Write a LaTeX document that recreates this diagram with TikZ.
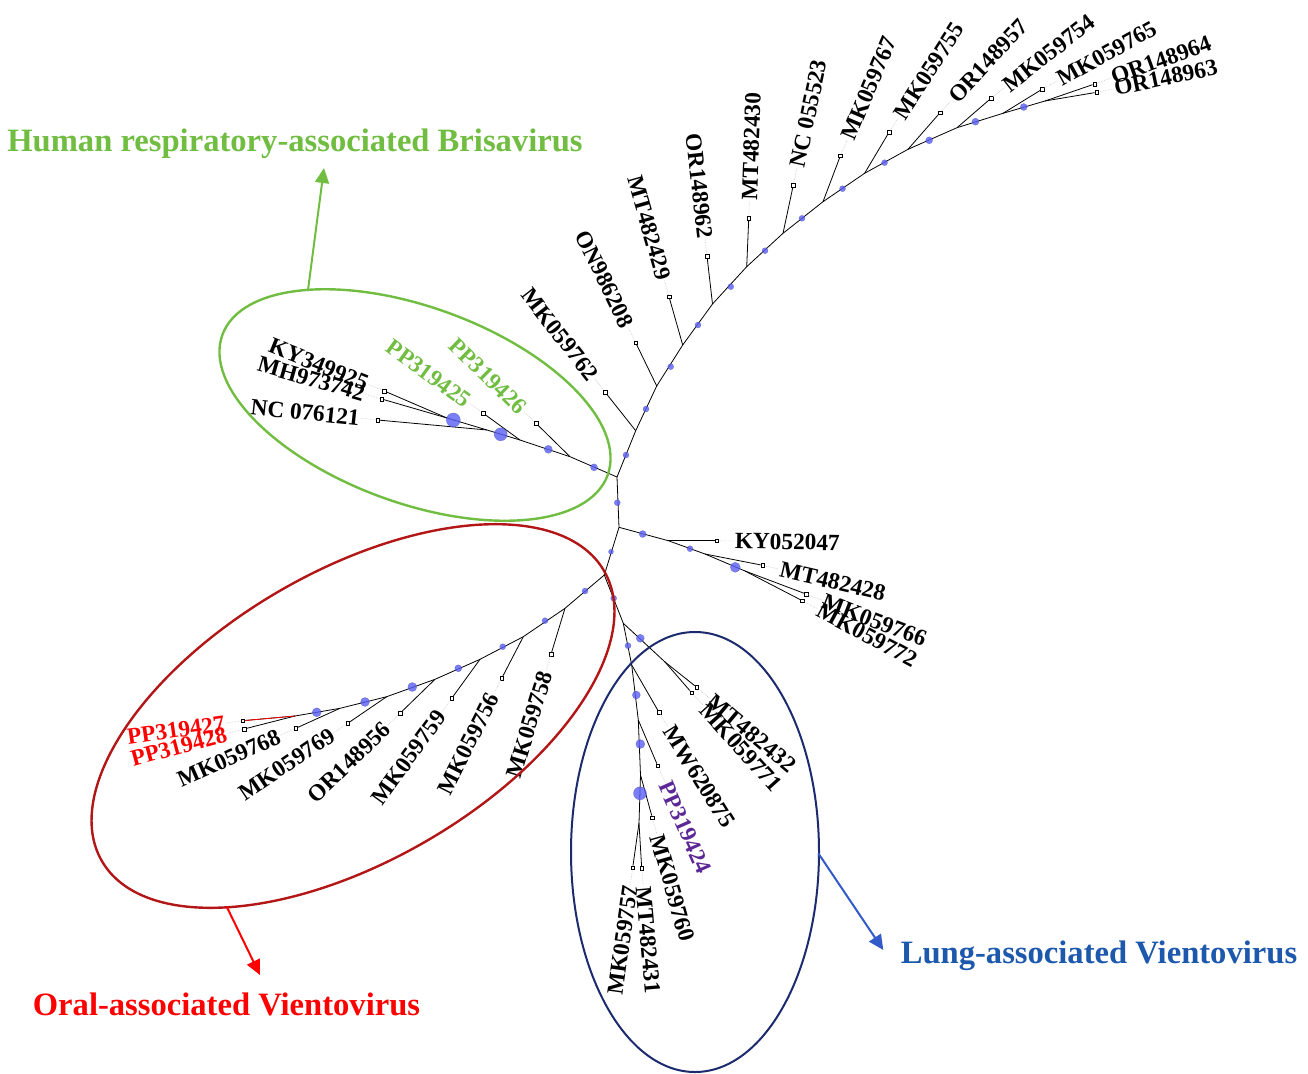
\documentclass[tikz,border=0pt]{standalone}
\usepackage{fontspec}
\setmainfont{Liberation Serif}
\usetikzlibrary{arrows.meta,calc}

\definecolor{GreenC}{RGB}{112,189,66}
\definecolor{RedE}{RGB}{178,22,22}
\definecolor{RedT}{RGB}{255,0,0}
\definecolor{NavyE}{RGB}{28,42,110}
\definecolor{BlueT}{RGB}{28,88,172}
\definecolor{BlueA}{RGB}{50,90,200}
\definecolor{PurpleT}{RGB}{92,40,150}
\definecolor{DotBlue}{RGB}{90,95,245}

\tikzset{
  branch/.style={black, line width=0.8pt},
  leaf/.style={rectangle, draw, fill=white, inner sep=0pt, minimum size=3.6pt, line width=0.6pt},
  bdot/.style={circle, inner sep=0pt, minimum size=#1pt, fill=DotBlue, fill opacity=0.8,
    draw=DotBlue!70!black, draw opacity=0.5, line width=0.4pt},
  lab/.style={font=\fontsize{23.3}{23.3}\selectfont\bfseries, inner sep=1pt},
  leader/.style={black!22, densely dotted, line width=0.6pt},
  clade/.style={line width=2.4pt},
  title/.style={font=\fontsize{32.6}{32.6}\selectfont\bfseries, inner sep=0pt, anchor=base},
  pointer/.style={->, line width=2pt}
}

\begin{document}
\begin{tikzpicture}[x=1pt, y=1pt, >={Triangle[width=14pt,length=15pt]}]
    \useasboundingbox (0,0) rectangle (1308,-1073);

    % Backbone
    \coordinate (j1) at (617,-477);
    \coordinate (j2) at (619,-527.3);
    \coordinate (j3) at (604.3,-575);
    % Upper spine
    \coordinate (u1) at (635.7,-430.7);
    \coordinate (u2) at (656.7,-386);
    \coordinate (u3) at (682.7,-345);
    \coordinate (u4) at (712.5,-304);
    \coordinate (u5) at (746.7,-266.7);
    \coordinate (u6) at (783,-233.3);
    \coordinate (u7) at (823,-201.7);
    \coordinate (u8) at (864.6,-173.3);
    \coordinate (u9) at (908,-149.3);
    \coordinate (u10) at (957,-127.7);
    \coordinate (u11) at (1003,-113.3);
    \coordinate (u12) at (1045,-101);
    % Brisavirus clade
    \coordinate (g1) at (570,-456.7);
    \coordinate (g2) at (520,-440);
    \coordinate (g3) at (487,-430);
    \coordinate (g4) at (447,-418);
    % KY052047 clade
    \coordinate (k1) at (668.3,-540.7);
    \coordinate (k2) at (705,-554);
    \coordinate (k3) at (745,-571);
    % Oral clade
    \coordinate (o1) at (565,-608.3);
    \coordinate (o2) at (523.3,-636.7);
    \coordinate (o3) at (480,-659.3);
    \coordinate (o4) at (435,-679.3);
    \coordinate (o5) at (386.7,-696.7);
    \coordinate (o6) at (340,-708.3);
    \coordinate (o7) at (295,-716);
    % Lung clade
    \coordinate (l1) at (623.3,-623.3);
    \coordinate (l2) at (631.7,-665);
    \coordinate (l3) at (638.3,-720);
    \coordinate (l4) at (640.5,-775);
    \coordinate (l5) at (639,-823);
    \coordinate (lm) at (665,-662);

    \draw[branch] (j1) -- (u1) -- (u2) -- (u3) -- (u4) -- (u5) -- (u6) -- (u7) -- (u8)
        -- (u9) -- (u10) -- (u11) -- (u12);
    \draw[branch] (j1) -- (g1) -- (g2) -- (g3) -- (g4);
    \draw[branch] (j1) -- (j2) -- (j3);
    \draw[branch] (j2) -- (k1) -- (k2) -- (k3);
    \draw[branch] (j3) -- (o1) -- (o2) -- (o3) -- (o4) -- (o5) -- (o6) -- (o7);
    \draw[branch] (j3) -- (l1) -- (l2) -- (l3) -- (l4) -- (l5);
    \draw[branch] (l1) -- (lm);

    % Leaves
    \foreach \nm/\pos/\from in {
        mk762/{605,-392}/u1, on986/{635.7,-342.7}/u2, mt429/{669,-296.7}/u3,
        or962/{707,-256}/u4, mt430/{748.75,-218.3}/u5, nc523/{793.3,-185}/u6,
        mk767/{840.4,-155.7}/u7, mk755/{889,-132.3}/u8, or957/{940,-112.7}/u9,
        mk754/{991,-98.3}/u10, mk765/{1042.5,-89}/u11, or964/{1094.6,-84}/u12,
        or963/{1096.7,-92.3}/u12,
        pp426/{536,-423.3}/g1, pp425/{483.3,-413.3}/g2, nc121/{377.7,-420}/g3,
        ky925/{384.3,-391}/g4, mh742/{381.7,-399}/g4,
        ky047/{716.7,-540.7}/k1, mt428/{762.7,-565.3}/k2, mk766/{806,-594}/k3,
        mk772/{802.3,-600.7}/k3,
        mk758/{551,-654.3}/o1, mk756/{501.7,-678.3}/o2, mk759/{451.7,-698.3}/o3,
        or956/{400,-713.3}/o4, mk769/{347.7,-723.3}/o5, mk768/{295.7,-728.3}/o6,
        pp427/{242.7,-720.7}/o7, pp428/{244,-729}/o7,
        mt432/{696.7,-687.3}/lm, mk771/{691.7,-692.7}/lm, mw875/{659,-712.3}/l2,
        pp424/{657.7,-765.7}/l3, mk760/{652.3,-817.7}/l4, mt431/{641.7,-868.3}/l5,
        mk757/{632.7,-867.7}/l5}
    {
        \node[leaf] (\nm) at (\pos) {};
        \draw[branch] (\from) -- (\nm);
    }
    \draw[branch, RedT] (o7) -- (pp427);

    % Node support dots
    \foreach \p/\s [count=\i] in {
        {626,-455}/6, {646,-409}/6, {670.7,-366.7}/6, {698,-325}/6, {730.8,-286.7}/6,
        {765,-250.7}/6, {802,-218.3}/6, {842.5,-188.7}/6, {884.6,-162.7}/6,
        {929.2,-140.3}/7, {975.4,-121.7}/7, {1023.75,-107}/7,
        {594,-467.3}/7, {548.3,-449.3}/8, {500.7,-434.3}/13, {453.3,-420}/14,
        {617.3,-502.7}/6, {611,-551.7}/5,
        {642.7,-534}/7, {690,-548.7}/6, {735.3,-567.3}/10,
        {585,-591}/6, {545,-620.7}/6, {502.7,-646.7}/6, {458.3,-668.3}/7,
        {412.3,-687}/9, {365,-702}/9, {316.7,-712.3}/9,
        {613.7,-598.3}/6, {640.3,-638.3}/8, {628,-645.7}/6, {636.3,-695}/8,
        {640.3,-744}/9, {640,-793.3}/13}
    {
        \node[bdot=\s] (dot\i) at (\p) {};
    }

    % Labels reading outward
    \foreach \nm/\ang/\col/\txt in {
        mt430/88/black/MT482430, nc523/78/black/NC 055523, mk767/67/black/MK059767,
        mk755/57/black/MK059755, or957/47/black/OR148957, mk754/38/black/MK059754,
        mk765/29/black/MK059765, or964/20/black/OR148964, or963/12/black/OR148963,
        ky047/-1/black/KY052047, mt428/-13/black/MT482428, mk766/-21/black/MK059766,
        mk772/-28/black/MK059772,
        mt432/-40/black/MT482432, mk771/-48/black/MK059771, mw875/-58/black/MW620875,
        pp424/-66/PurpleT/PP319424, mk760/-74/black/MK059760, mt431/-85/black/MT482431}
    {
        \node[lab, anchor=west, rotate=\ang, text=\col] (t-\nm) at ($(\nm)+(\ang:17)$) {\txt};
        \draw[leader] (\nm) -- (t-\nm);
    }

    % Labels reading inward
    \foreach \nm/\ang/\col/\txt in {
        mk762/128/black/MK059762, on986/116/black/ON986208, mt429/106/black/MT482429,
        or962/96.5/black/OR148962,
        pp426/135.5/GreenC/PP319426, pp425/144/GreenC/PP319425, nc121/174/black/NC 076121,
        ky925/158/black/KY349925, mh742/164/black/MH973742,
        mk758/253/black/MK059758, mk756/243/black/MK059756, mk759/234/black/MK059759,
        or956/224/black/OR148956, mk769/214/black/MK059769, mk768/204/black/MK059768,
        pp427/188/RedT/PP319427, pp428/195/RedT/PP319428, mk757/262/black/MK059757}
    {
        \pgfmathsetmacro{\rot}{\ang+180}
        \node[lab, anchor=east, rotate=\rot, text=\col] (t-\nm) at ($(\nm)+(\ang:17)$) {\txt};
        \draw[leader] (\nm) -- (t-\nm);
    }

    % Clade outlines
    \draw[clade, GreenC, rotate around={-20:(415,-405)}] (415,-405) ellipse [x radius=205, y radius=98];
    \draw[clade, RedE, rotate around={30:(353,-716)}] (353,-716) ellipse [x radius=290, y radius=145];
    \draw[clade, NavyE, line width=2pt] (695,-852) ellipse [x radius=124, y radius=220];

    % Clade names
    \node[title, text=GreenC] (brisa) at (295,-151) {Human respiratory-associated Brisavirus};
    \node[title, text=RedT] (oral) at (226.5,-1015) {Oral-associated Vientovirus};
    \node[title, text=BlueT] (lung) at (1099,-963) {Lung-associated Vientovirus};

    \coordinate (brisa-from) at (308,-290);
    \coordinate (brisa-to) at (324,-168);
    \coordinate (oral-from) at (226.7,-906.7);
    \coordinate (oral-to) at (260,-975);
    \coordinate (lung-from) at (818.3,-853.3);
    \coordinate (lung-to) at (883.3,-950);
    \draw[pointer, GreenC] (brisa-from) -- (brisa-to);
    \draw[pointer, RedT] (oral-from) -- (oral-to);
    \draw[pointer, BlueA] (lung-from) -- (lung-to);
\end{tikzpicture}
\end{document}
